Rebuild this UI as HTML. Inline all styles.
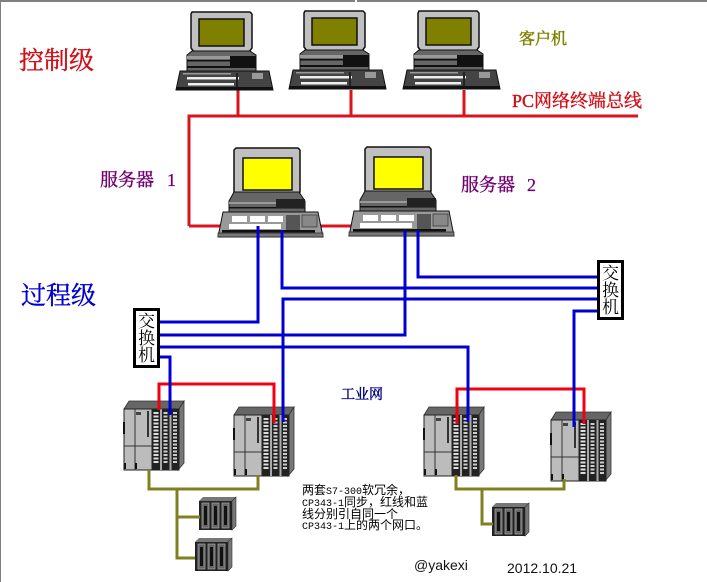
<!DOCTYPE html>
<html><head><meta charset="utf-8"><style>
html,body{margin:0;padding:0;background:#fff}
svg{display:block}
.cjk{font-family:"Liberation Serif","Noto Serif CJK SC",serif}
.note{font-family:"WenQuanYi Zen Hei","Noto Sans CJK SC",sans-serif;font-size:12px;fill:#000}
.note tspan{font-family:"Liberation Mono",monospace;font-size:10px}
.sw{font-family:"Noto Serif CJK SC",serif;font-size:17px;fill:#000}
</style></head><body>
<svg width="707" height="582" viewBox="0 0 707 582" xmlns="http://www.w3.org/2000/svg">
<defs>
<g id="client">
  <path d="M192 12H250L252 14V48L249 52H194L191 48V14Z" fill="#c0c0c0" stroke="#111" stroke-width="1.5"/>
  <rect x="199" y="19" width="45" height="27" fill="#808000" stroke="#111" stroke-width="1.5"/>
  <path d="M187 55L192 51H250L256 55V71H187Z" fill="#666" stroke="#111"/>
  <rect x="187" y="56" width="69" height="3" fill="#999"/>
  <rect x="187" y="60" width="69" height="1.5" fill="#111"/>
  <rect x="187" y="66" width="69" height="2" fill="#111"/>
  <rect x="230" y="56" width="26" height="10" fill="#111"/>
  <path d="M180 71H269L273 90H176Z" fill="#444" stroke="#111"/>
  <rect x="187" y="77" width="52" height="2.5" fill="#eee"/>
  <rect x="188" y="83" width="46" height="2.5" fill="#eee"/>
  <rect x="183" y="73" width="48" height="1.5" fill="#999"/>
  <rect x="236" y="73" width="2" height="15" fill="#222"/>
  <rect x="252" y="73" width="11" height="6" fill="#999"/>
  <rect x="176" y="87" width="97" height="3" fill="#111"/>
</g>
<g id="server">
  <path d="M236 148H298L300 150V192L297 196H237L234 192V150Z" fill="#c0c0c0" stroke="#111" stroke-width="1.5"/>
  <rect x="243" y="158" width="49" height="32" fill="#ffff00" stroke="#111" stroke-width="1.5"/>
  <path d="M229 201L234 192H299L305 201V212H229Z" fill="#666" stroke="#111"/>
  <rect x="229" y="202" width="76" height="2" fill="#999"/>
  <rect x="229" y="207" width="76" height="1.5" fill="#111"/>
  <rect x="276" y="199" width="29" height="9" fill="#222"/>
  <path d="M223 212H318L323 237H218Z" fill="#999" stroke="#111"/>
  <rect x="232" y="216" width="15" height="6" fill="#fff"/>
  <rect x="250" y="216" width="15" height="6" fill="#fff"/>
  <rect x="268" y="216" width="15" height="6" fill="#fff"/>
  <rect x="229" y="224" width="52" height="5" fill="#fff"/>
  <rect x="286" y="215" width="14" height="15" fill="#555"/>
  <rect x="302" y="215" width="15" height="12" fill="#888" stroke="#333" stroke-width=".7"/>
  <rect x="222" y="230" width="93" height="2.5" fill="#111"/>
  <rect x="218" y="233" width="105" height="4" fill="#777" stroke="#222" stroke-width=".7"/>
</g>
<g id="plc">
  <path d="M0 9L5 1H60L55 9Z" fill="#666" stroke="#333" stroke-width=".8"/>
  <path d="M55 9L60 1V63L54 70Z" fill="#777" stroke="#333" stroke-width=".8"/>
  <rect x="0" y="9" width="55" height="61" fill="#bcbcbc" stroke="#222"/>
  <line x1="11" y1="9" x2="11" y2="70" stroke="#333"/>
  <line x1="0" y1="46" x2="28" y2="46" stroke="#333"/>
  <rect x="-1" y="22" width="2" height="12" fill="#111"/>
  <rect x="0" y="63" width="2" height="6" fill="#111"/>
  <rect x="11" y="63" width="2" height="6" fill="#111"/>
  <rect x="12" y="12" width="5" height="3" fill="#444"/>
  <rect x="23" y="11" width="2" height="26" fill="#333"/>
  <rect x="27.500" y="9" width="1" height="61" fill="#222"/>
  <rect x="28.500" y="9" width="7.500" height="61" fill="#222"/>
  <line x1="32" y1="12" x2="32" y2="64" stroke="#ddd" stroke-width="5" stroke-dasharray="2 1.500"/>
  <rect x="36" y="9" width="2" height="61" fill="#aaa"/>
  <rect x="38" y="9" width="7.500" height="61" fill="#222"/>
  <line x1="41.500" y1="12" x2="41.500" y2="64" stroke="#ccc" stroke-width="4" stroke-dasharray="2 1.500"/>
  <rect x="45.500" y="9" width="2" height="61" fill="#aaa"/>
  <rect x="47.500" y="9" width="7.500" height="61" fill="#222"/>
  <line x1="51" y1="12" x2="51" y2="64" stroke="#ccc" stroke-width="4" stroke-dasharray="2 1.500"/>
</g>
<g id="rack">
  <path d="M0 4L4 0H37L33 4Z" fill="#777"/>
  <path d="M33 4L37 0V29L33 33Z" fill="#777" stroke="#333" stroke-width=".6"/>
  <rect x="0" y="4" width="33" height="29" fill="#222"/>
  <rect x="3" y="6" width="7" height="25" fill="#666" stroke="#aaa" stroke-width=".7"/>
  <rect x="13" y="6" width="7" height="25" fill="#666" stroke="#aaa" stroke-width=".7"/>
  <rect x="23" y="6" width="7" height="25" fill="#666" stroke="#aaa" stroke-width=".7"/>
  <rect x="5" y="9" width="3" height="19" fill="#111"/>
  <rect x="15" y="9" width="3" height="19" fill="#111"/>
  <rect x="25" y="9" width="3" height="19" fill="#111"/>
</g>
</defs>

<rect x="0" y="0" width="355" height="2" fill="#808080"/>
<rect x="357" y="0" width="350" height="2" fill="#808080"/>
<rect x="0" y="0" width="1" height="582" fill="#808080"/>

<!-- red bus -->
<g fill="none" stroke="#d8141e" stroke-width="3">
  <path d="M189 226V116H638"/>
  <path d="M238 90V116M351 90V116M464 90V116"/>
  <path d="M189 226H220M320 226H351"/>
</g>

<use href="#client"/>
<use href="#client" x="113" y="-1"/>
<use href="#client" x="227" y="-1"/>
<use href="#server"/>
<use href="#server" x="131" y="-1"/>

<use href="#plc" x="124" y="400"/>
<use href="#plc" x="234" y="406"/>
<use href="#plc" x="424" y="406"/>
<use href="#plc" x="551" y="411"/>
<use href="#rack" x="199" y="497"/>
<use href="#rack" x="195" y="538"/>
<use href="#rack" x="492" y="503"/>

<!-- olive -->
<g fill="none" stroke="#808020" stroke-width="3">
  <path d="M149 470V489H258V475"/>
  <path d="M177 489V558H195M177 517H200"/>
  <path d="M456 475V489H564V479"/>
  <path d="M482 489V524H493"/>
</g>

<!-- redundant red -->
<g fill="none" stroke="#f00010" stroke-width="3">
  <path d="M159 410V384H274V423"/>
  <path d="M457 424V389H584V424"/>
</g>

<!-- blue -->
<g fill="none" stroke="#0000d0" stroke-width="3">
  <path d="M258 226V322H160"/>
  <path d="M282 230V288H597"/>
  <path d="M405 230V335H160"/>
  <path d="M418 230V277H597"/>
  <path d="M160 347H468V422"/>
  <path d="M160 357H170V415"/>
  <path d="M597 299H283V422"/>
  <path d="M597 311H574V427"/>
</g>

<!-- switches -->
<rect x="134.500" y="309.500" width="24" height="57" fill="#fff" stroke="#000" stroke-width="3"/>
<text class="sw" x="146.500" y="327" text-anchor="middle">交</text>
<text class="sw" x="146.500" y="344" text-anchor="middle">换</text>
<text class="sw" x="146.500" y="361" text-anchor="middle">机</text>
<rect x="598.500" y="261.500" width="24" height="57" fill="#fff" stroke="#000" stroke-width="3"/>
<text class="sw" x="610.500" y="279" text-anchor="middle">交</text>
<text class="sw" x="610.500" y="296" text-anchor="middle">换</text>
<text class="sw" x="610.500" y="313" text-anchor="middle">机</text>

<!-- labels -->
<text class="cjk" x="19" y="69" font-size="25" fill="#d01018" stroke="#d01018" stroke-width=".4">控制级</text>
<text class="cjk" x="21" y="304" font-size="25" fill="#0000d0" stroke="#0000d0" stroke-width=".4">过程级</text>
<text class="cjk" x="519" y="44" font-size="16" fill="#808000" stroke="#808000" stroke-width=".5">客户机</text>
<text class="cjk" x="512" y="107" font-size="18" fill="#d01018" stroke="#d01018" stroke-width=".4">PC网络终端总线</text>
<text class="cjk" x="100" y="186" font-size="18" fill="#700070" stroke="#700070" stroke-width=".4">服务器</text>
<text class="cjk" x="167" y="186" font-size="18" fill="#700070" stroke="#700070" stroke-width=".3">1</text>
<text class="cjk" x="461" y="191" font-size="18" fill="#700070" stroke="#700070" stroke-width=".4">服务器</text>
<text class="cjk" x="527" y="191" font-size="18" fill="#700070" stroke="#700070" stroke-width=".3">2</text>
<text class="cjk" x="341" y="399" font-size="14" fill="#000080" stroke="#000080" stroke-width=".4">工业网</text>

<text class="note" x="302" y="494">两套<tspan>S7-300</tspan>软冗余，</text>
<text class="note" x="302" y="506"><tspan>CP343-1</tspan>同步，红线和蓝</text>
<text class="note" x="302" y="518">线分别引自同一个</text>
<text class="note" x="302" y="529"><tspan>CP343-1</tspan>上的两个网口。</text>

<text x="414" y="570" font-family="Liberation Sans, sans-serif" font-size="14" fill="#111">@yakexi</text>
<text x="507" y="573" font-family="Liberation Sans, sans-serif" font-size="14" fill="#111">2012.10.21</text>
</svg>
</body></html>
